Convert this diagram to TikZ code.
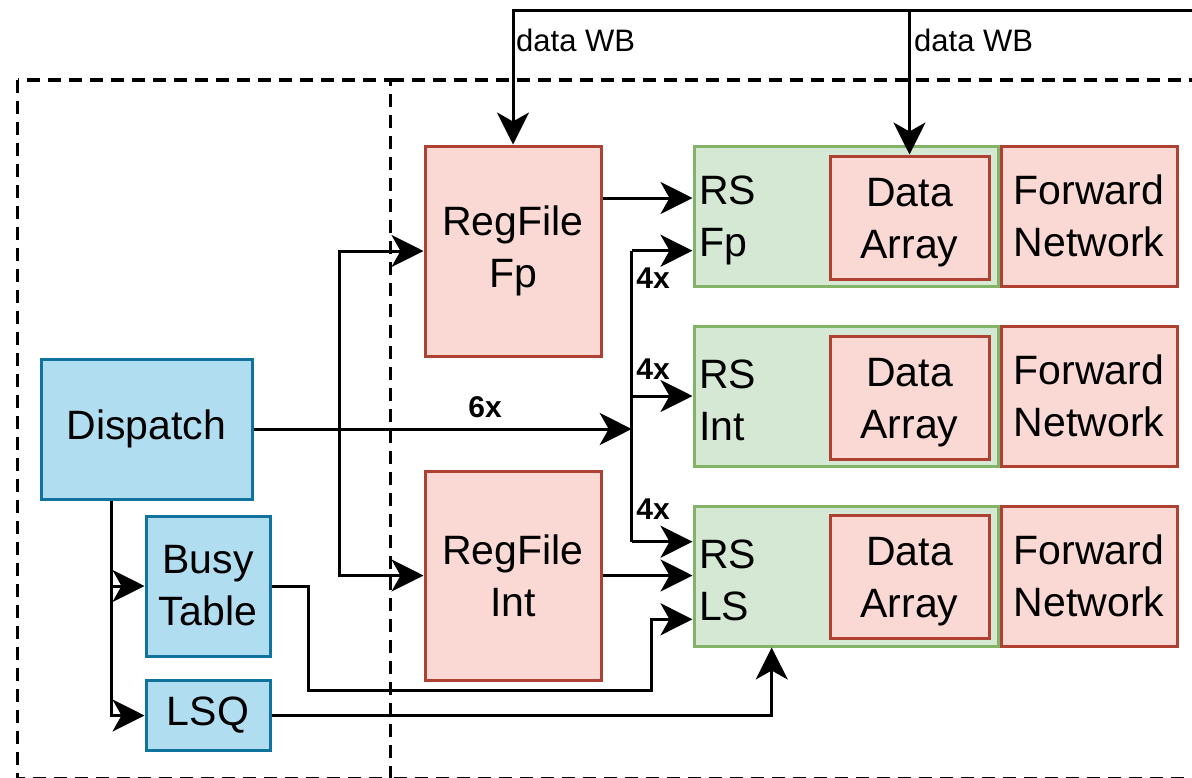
\documentclass[tikz,border=0pt]{standalone}
\usepackage{fontspec}
\setmainfont{Liberation Sans}
\usetikzlibrary{arrows.meta,calc}

\definecolor{blueFill}{HTML}{B1DDF0}
\definecolor{blueLine}{HTML}{10739E}
\definecolor{redFill}{HTML}{FAD9D5}
\definecolor{redLine}{HTML}{AE4132}
\definecolor{greenFill}{HTML}{D5E8D4}
\definecolor{greenLine}{HTML}{82B366}

\tikzset{
  unit/.style={draw, line width=3pt, rectangle, inner sep=0pt, align=center,
    font=\fontsize{41}{52}\selectfont},
  bluebox/.style={unit, fill=blueFill, draw=blueLine},
  redbox/.style={unit, fill=redFill, draw=redLine},
  rsbox/.style={unit, fill=greenFill, draw=greenLine, align=left, text height=37pt,
    inner xsep=5pt, text width=294pt, minimum width=304pt, minimum height=140pt},
  databox/.style={redbox, text height=90pt, minimum width=159pt, minimum height=123pt},
  fwdbox/.style={redbox, minimum width=176pt, minimum height=140pt},
  wire/.style={line width=3pt, draw=black},
  arr/.style={wire, -{Stealth[length=32pt, width=32pt, inset=9pt]}},
  region/.style={line width=3.2pt, dash pattern=on 13pt off 8pt},
  wblabel/.style={anchor=west, inner sep=0pt, font=\fontsize{31}{37}\selectfont},
  cnt/.style={inner sep=0pt, font=\fontsize{30}{36}\selectfont\bfseries},
}

\begin{document}
\begin{tikzpicture}[x=1pt, y=-1pt]
\useasboundingbox (0,0) rectangle (1192,777);

% dashed regions: front end (left) and execution side (right)
\draw[region] (17.5,80) rectangle (390.5,778.5);
\draw[region] (390.5,80) -- (1215,80) -- (1215,778.5) -- (390.5,778.5);

% front-end units
\node[bluebox, minimum width=211pt, minimum height=140pt] (Dispatch) at (146.5,429) {Dispatch};
\node[bluebox, minimum width=124pt, minimum height=140pt] (Busy) at (208,586) {Busy\\Table};
\node[bluebox, minimum width=124pt, minimum height=70pt] (LSQ) at (208,715.5) {LSQ};

% register files
\node[redbox, minimum width=176pt, minimum height=210pt] (RegFp) at (513,251) {RegFile\\Fp};
\node[redbox, minimum width=176pt, minimum height=209pt] (RegInt) at (513,575.5) {RegFile\\Int};

% reservation stations with their data arrays and forwarding networks
\node[rsbox] (RSFp) at (846,216) {RS\\Fp};
\node[rsbox] (RSInt) at (846,396) {RS\\Int};
\node[rsbox] (RSLS) at (846,576) {RS\\LS};

\node[databox] (DAFp) at (909.5,217.5) {Data\\Array};
\node[databox] (DAInt) at (909.5,397.5) {Data\\Array};
\node[databox] (DALS) at (909.5,576.5) {Data\\Array};

\node[fwdbox] (FNFp) at (1089,216) {Forward\\Network};
\node[fwdbox] (FNInt) at (1089,396) {Forward\\Network};
\node[fwdbox] (FNLS) at (1089,576) {Forward\\Network};

% junction points
\coordinate (wbSrc) at (1215,10);
\coordinate (jReg) at (339.3,429);
\coordinate (busMid) at (631.7,429);
\coordinate (busTop) at (631.7,250.7);
\coordinate (busBot) at (631.7,541.7);
\coordinate (dspOut) at ([xshift=-34.8pt]Dispatch.south);
\coordinate (fpIn) at ([yshift=18pt]RSFp.west);
\coordinate (lsBusy) at ([yshift=-43.3pt]RSLS.west);
\coordinate (lsBot) at ([xshift=-74.3pt]RSLS.south);

% data write-back bus
\draw[arr] (wbSrc) -| (RegFp.north);
\draw[arr] (DAFp.north |- wbSrc) -- (DAFp.north);
\node[wblabel] at (516,40) {data WB};
\node[wblabel] at (914,40) {data WB};

% dispatch to the register files and the reservation stations
\draw[arr] (Dispatch.east) -- (busMid);
\node[cnt] at (485,407) {6x};
\draw[arr] (jReg) |- (RegFp.west);
\draw[arr] (jReg) |- (RegInt.west);

\draw[wire] (busTop) -- (busBot);
\draw[arr] (busTop) -- (RSFp.west |- busTop);
\draw[arr] (busTop |- RSInt.west) -- (RSInt.west);
\draw[arr] (busBot) -- (RSLS.west |- busBot);
\node[cnt] at (653,278) {4x};
\node[cnt] at (653,369) {4x};
\node[cnt] at (653,509) {4x};

% register file reads
\draw[arr] (RegFp.east |- fpIn) -- (fpIn);
\draw[arr] (RegInt.east) -- (RSLS.west |- RegInt.east);

% busy table and load/store queue
\draw[arr] (dspOut) |- (LSQ.west);
\draw[arr] (dspOut) |- (Busy.west);
\draw[arr] (Busy.east) -- ++(36.7,0) -- ++(0,104.7) -| ($(lsBusy)+(-41.3,0)$) -- (lsBusy);
\draw[arr] (LSQ.east) -| (lsBot);
\end{tikzpicture}
\end{document}
